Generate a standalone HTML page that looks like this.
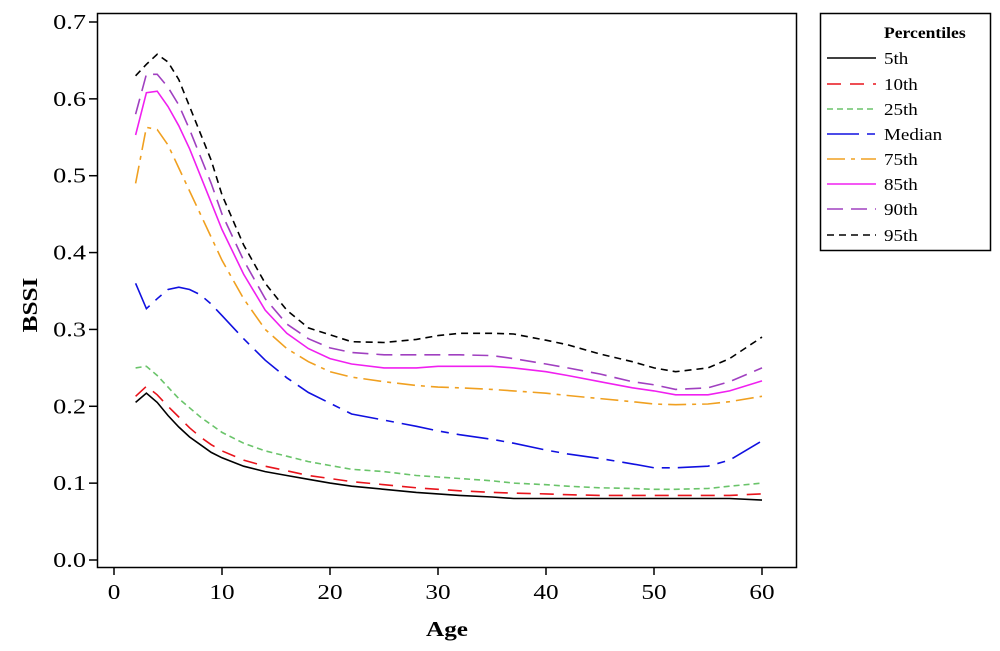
<!DOCTYPE html>
<html><head><meta charset="utf-8"><style>
html,body{margin:0;padding:0;background:#fff;}
svg{display:block;font-family:"Liberation Serif",serif;}
</style></head><body>
<svg id="chart" width="1000" height="651" viewBox="0 0 1000 651">
<rect x="97.5" y="13.5" width="699" height="554" fill="none" stroke="#000" stroke-width="1.5"/>
<g id="axes"></g>
<g id="series"></g>
<text transform="translate(37,305) rotate(-90) scale(1.2,1)" text-anchor="middle" font-size="21" font-weight="bold">BSSI</text>
<text transform="translate(447,636) scale(1.2,1)" text-anchor="middle" font-size="21" font-weight="bold">Age</text>
<g id="legend">
<rect x="820.5" y="13.5" width="170" height="237" fill="#fff" stroke="#000" stroke-width="1.5"/>
<text transform="translate(884,38) scale(1.1,1)" font-size="16" font-weight="bold">Percentiles</text>
</g>
</svg>
<script>
const ages = [2,3,4,5,6,7,8,9,10,12,14,16,18,20,22,25,28,30,32,35,37,40,42,45,48,50,52,55,57,60];
const p95 = [0.63,0.645,0.658,0.648,0.625,0.59,0.555,0.52,0.475,0.41,0.36,0.325,0.302,0.293,0.284,0.283,0.287,0.292,0.295,0.295,0.294,0.286,0.28,0.268,0.258,0.25,0.245,0.25,0.262,0.29];
const p90 = [0.58,0.632,0.632,0.615,0.592,0.56,0.525,0.49,0.45,0.39,0.34,0.307,0.288,0.276,0.27,0.267,0.267,0.267,0.267,0.266,0.262,0.255,0.25,0.242,0.232,0.228,0.222,0.224,0.232,0.25];
const p85 = [0.553,0.608,0.61,0.59,0.565,0.535,0.5,0.465,0.43,0.372,0.325,0.295,0.275,0.262,0.255,0.25,0.25,0.252,0.252,0.252,0.25,0.245,0.24,0.232,0.224,0.22,0.215,0.215,0.22,0.233];
const p75 = [0.49,0.563,0.56,0.54,0.51,0.48,0.45,0.42,0.39,0.34,0.3,0.275,0.258,0.245,0.238,0.232,0.227,0.225,0.224,0.222,0.22,0.217,0.214,0.21,0.206,0.203,0.202,0.203,0.206,0.213];
const p50 = [0.36,0.327,0.34,0.352,0.355,0.352,0.345,0.333,0.318,0.288,0.26,0.237,0.218,0.204,0.19,0.182,0.174,0.168,0.163,0.157,0.152,0.143,0.138,0.132,0.125,0.12,0.12,0.122,0.13,0.155];
const p25 = [0.25,0.252,0.24,0.225,0.21,0.198,0.186,0.176,0.166,0.152,0.142,0.135,0.128,0.123,0.118,0.115,0.11,0.108,0.106,0.103,0.1,0.098,0.096,0.094,0.093,0.092,0.092,0.093,0.096,0.1];
const p10 = [0.213,0.226,0.215,0.2,0.186,0.172,0.16,0.15,0.142,0.13,0.122,0.116,0.11,0.106,0.102,0.098,0.094,0.092,0.09,0.088,0.087,0.086,0.085,0.084,0.084,0.084,0.084,0.084,0.084,0.086];
const p5 = [0.205,0.217,0.205,0.188,0.173,0.16,0.15,0.14,0.133,0.122,0.115,0.11,0.105,0.1,0.096,0.092,0.088,0.086,0.084,0.082,0.08,0.08,0.08,0.08,0.08,0.08,0.08,0.08,0.08,0.078];
const xTicks = [0,10,20,30,40,50,60];
const yTicks = [0.0,0.1,0.2,0.3,0.4,0.5,0.6,0.7];
const seriesNames = ["5th","10th","25th","Median","75th","85th","90th","95th"];

const NS="http://www.w3.org/2000/svg";
function X(a){return 114+a*(762-114)/60;}
function Y(v){return 560-v*(560-22)/0.7;}
function mk(tag,attrs,parent){const e=document.createElementNS(NS,tag);for(const k in attrs)e.setAttribute(k,attrs[k]);parent.appendChild(e);return e;}
const axes=document.getElementById('axes');
xTicks.forEach(t=>{
  const l=mk('line',{x1:X(t),x2:X(t),y1:567,y2:575,stroke:'#000','stroke-width':1.5},axes);
  
  
  const tx=mk('text',{transform:'translate('+X(t)+',599) scale(1.2,1)','text-anchor':'middle','font-size':21},axes);
  tx.textContent=t;
  
  
});
yTicks.forEach(t=>{
  const l=mk('line',{x1:89,x2:97,y1:Y(t),y2:Y(t),stroke:'#000','stroke-width':1.5},axes);
  
  
  const tx=mk('text',{transform:'translate(86,'+(Y(t)+7)+') scale(1.25,1)','text-anchor':'end','font-size':21},axes);
  tx.textContent=t.toFixed(1);
  
  
});
const styles=[
 {d:p5,c:'#000',dash:''},
 {d:p10,c:'#e8141c',dash:'14 9'},
 {d:p25,c:'#6ac46a',dash:'6 4'},
 {d:p50,c:'#1010e0',dash:'32 8 8 8'},
 {d:p75,c:'#f0a020',dash:'18 6 4 6'},
 {d:p85,c:'#f020f0',dash:''},
 {d:p90,c:'#a040c0',dash:'16 8'},
 {d:p95,c:'#000',dash:'7 5'}
];
const sg=document.getElementById('series');
styles.forEach((s,i)=>{
  const pts=ages.map((a,j)=>X(a).toFixed(1)+','+Y(s.d[j]).toFixed(1)).join(' ');
  const pl=mk('polyline',{points:pts,fill:'none',stroke:s.c,'stroke-width':1.6,'stroke-dasharray':s.dash},sg);
  
  
});
const lg=document.getElementById('legend');
const legY=[58,84,109,134,159,184,209,235];
styles.forEach((s,i)=>{
  const g=mk('g',{},lg);
  
  
  mk('line',{x1:827,x2:876,y1:legY[i],y2:legY[i],stroke:s.c,'stroke-width':1.6,'stroke-dasharray':s.dash},g);
  const t=mk('text',{transform:'translate(884,'+(legY[i]+6)+') scale(1.12,1)','font-size':17},g);
  t.textContent=seriesNames[i];
});
</script>
</body></html>
